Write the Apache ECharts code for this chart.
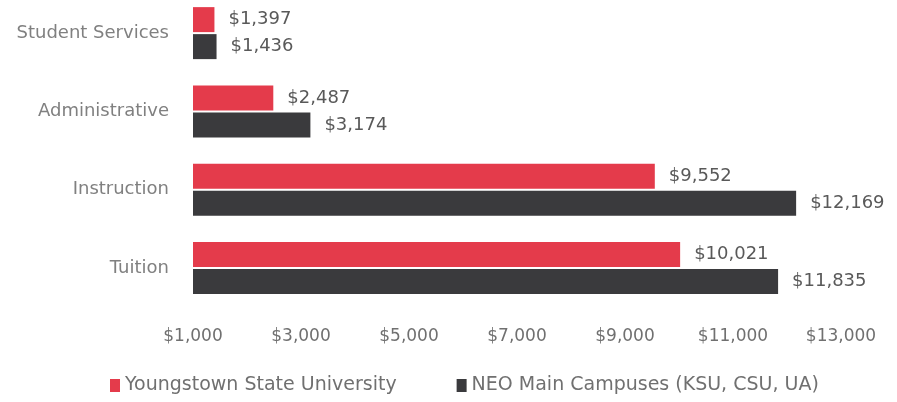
<!DOCTYPE html>
<html><head><meta charset="utf-8">
<script src="https://cdn.jsdelivr.net/npm/echarts@6/dist/echarts.min.js"></script>
<style>html,body{margin:0;padding:0;background:#fff;overflow:hidden}#c{width:897px;height:408px;position:relative;top:-6px}</style>
</head><body><div id="c"></div>
<script>
const categories = ['Student Services', 'Administrative', 'Instruction', 'Tuition'];
const ysuValues = [1397, 2487, 9552, 10021];
const neoValues = [1436, 3174, 12169, 11835];
const seriesNames = ['Youngstown State University', 'NEO Main Campuses (KSU, CSU, UA)'];
const tickMin = 1000, tickMax = 13000, tickStep = 2000;

const fmt = v => '$' + Math.round(v).toLocaleString('en-US');
const font = '"DejaVu Sans", "Open Sans", sans-serif';
const chart = echarts.init(document.getElementById('c'));
chart.setOption({
  animation: false,
  textStyle: { fontFamily: font },
  grid: { left: 193, right: 56, top: 0, bottom: 95, containLabel: false },
  legend: {
    bottom: 2, left: 105, itemWidth: 10, itemHeight: 13, itemGap: 60,
    icon: 'rect',
    textStyle: { color: '#707070', fontSize: 19, fontFamily: font }
  },
  xAxis: {
    type: 'value', min: tickMin, max: tickMax, interval: tickStep,
    axisLine: { show: false }, axisTick: { show: false },
    splitLine: { show: false },
    axisLabel: { color: '#707070', fontSize: 17, margin: 21, formatter: fmt, fontFamily: font }
  },
  yAxis: {
    type: 'category', data: categories, inverse: true,
    axisLine: { show: false }, axisTick: { show: false },
    axisLabel: { color: '#808080', fontSize: 18, margin: 24, fontFamily: font }
  },
  series: [
    { name: seriesNames[0], type: 'bar', data: ysuValues, barWidth: 25, barGap: '8%',
      itemStyle: { color: '#e43b4b' },
      label: { show: true, position: 'right', distance: 14, color: '#595959', fontSize: 18, formatter: p => fmt(p.value), fontFamily: font } },
    { name: seriesNames[1], type: 'bar', data: neoValues, barWidth: 25,
      itemStyle: { color: '#3a3a3d' },
      label: { show: true, position: 'right', distance: 14, color: '#595959', fontSize: 18, formatter: p => fmt(p.value), fontFamily: font } }
  ]
});
</script></body></html>
